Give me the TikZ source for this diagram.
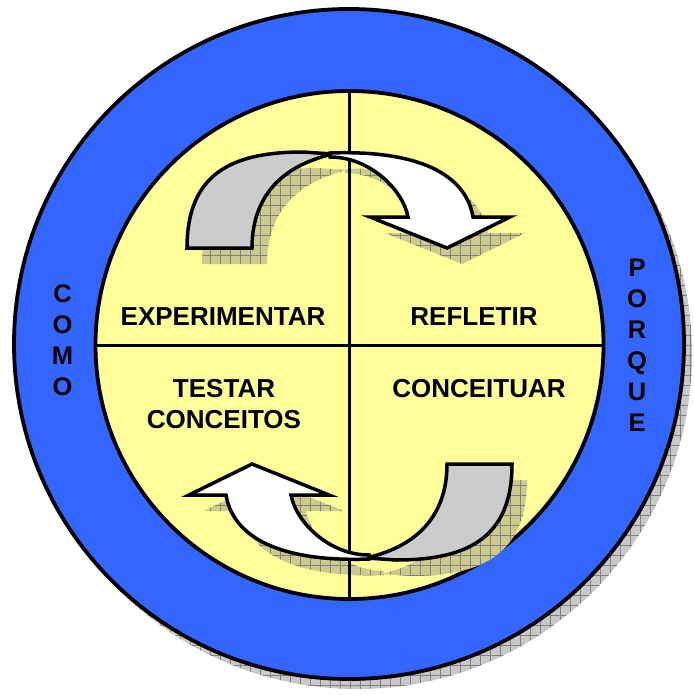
\documentclass[tikz,border=0pt]{standalone}
\usepackage{fontspec}
\setmainfont{Liberation Sans}
\usetikzlibrary{positioning,patterns.meta}
\definecolor{ringblue}{RGB}{51,102,255}
\definecolor{paleyellow}{RGB}{255,255,153}
\definecolor{tailgray}{RGB}{204,204,204}
\definecolor{dropolive}{RGB}{204,202,140}
\definecolor{dropgray}{RGB}{200,200,200}

\begin{document}
\begin{tikzpicture}[x=1pt,y=-1pt,
stage/.style={font=\fontsize{26}{31}\selectfont\bfseries,align=center,inner sep=0pt},
rim/.style={font=\fontsize{25.5}{31}\selectfont\bfseries,align=center,inner sep=0pt},
disc/.style={circle,draw,line width=3.8pt,inner sep=0pt},
tailarrow/.style={draw,line width=3.5pt,fill=tailgray},
headarrow/.style={draw,line width=3.5pt,fill=white},
drop/.style={fill=#1,postaction={pattern={Hatch[angle=0,distance=10pt,line width=0.5pt]},pattern color=gray}}
]
\useasboundingbox (0,0) rectangle (693,695);

% ring and shadow
\path[drop=dropgray] (357,354) circle (335);
\node (ring) [disc,minimum size=670pt,fill=ringblue] at (349,344) {};
\node (inner) [disc,minimum size=508pt,fill=paleyellow] at (349.5,345) {};

% shadows of the arrows
\foreach \turn in {0,180} {
\begin{scope}[shift={(15,16)},rotate around={\turn:(349.5,356)}]
\path[drop=dropolive] (187,248) .. controls (187,175) and (230,152) .. (303,152) -- (332,154) .. controls (320,158) and (252,170) .. (252,248) -- cycle;
\path[drop=dropolive] (330,153) .. controls (410,150) and (465,170) .. (473,217) -- (510,217) -- (447,248) -- (370,217) -- (408,217) .. controls (403,190) and (370,157) .. (330,157) -- cycle;
\end{scope}
}

\draw[line width=3pt] (inner.north) -- (inner.south);
\draw[line width=3pt] (inner.west) -- (inner.east);

% arrows
\foreach \turn in {0,180} {
\begin{scope}[rotate around={\turn:(349.5,356)}]
\path[tailarrow] (187,248) .. controls (187,175) and (230,152) .. (303,152) -- (332,154) .. controls (320,158) and (252,170) .. (252,248) -- cycle;
\path[headarrow] (330,153) .. controls (410,150) and (465,170) .. (473,217) -- (510,217) -- (447,248) -- (370,217) -- (408,217) .. controls (403,190) and (370,157) .. (330,157) -- cycle;
\end{scope}
}

\node (experimentar) [stage] at (223,317) {EXPERIMENTAR};
\node (refletir) [stage] at (474,317) {REFLETIR};
\node (testar) [stage] at (224,404) {TESTAR\\CONCEITOS};
\node (conceituar) [stage] at (479,389) {CONCEITUAR};
\node (como) [rim] at (62.5,340) {C\\O\\M\\O};
\node (porque) [rim] at (637,345) {P\\O\\R\\Q\\U\\E};
\end{tikzpicture}
\end{document}
